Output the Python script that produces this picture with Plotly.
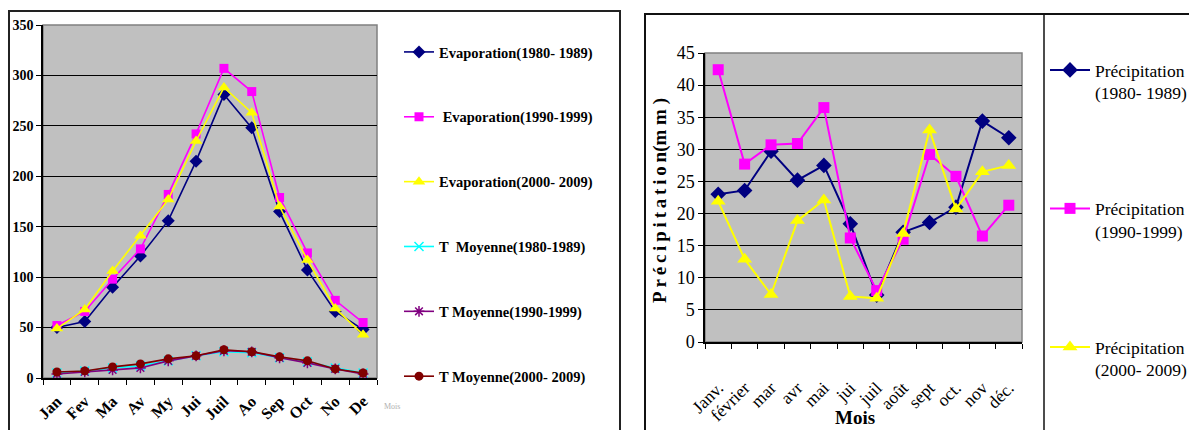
import plotly.graph_objects as go

W, H = 1189, 430

# ---------------- data ----------------
mois_g = ["Jan", "Fev", "Ma", "Av", "My", "Jui", "Juil", "Ao", "Sep", "Oct", "No", "De"]
evap_1980 = [50, 56, 90, 121, 156, 215, 281, 248, 165, 107, 66, 48]
evap_1990 = [52, 66, 98, 128, 182, 242, 307, 284, 179, 124, 77, 55]
evap_2000 = [49, 68, 106, 141, 177, 235, 288, 263, 170, 117, 69, 43]
tmoy_1980 = [5, 7, 10, 12, 17, 22, 26, 25, 20, 16, 10, 5]
tmoy_1990 = [4, 6, 8, 10, 17, 22, 27, 26, 20, 15, 9, 4]
tmoy_2000 = [6, 7, 11, 14, 19, 22, 28, 26, 21, 17, 9, 5]

mois_d = ["Janv.", "février", "mar", "avr", "mai", "jui", "juil", "août", "sept", "oct.", "nov", "déc."]
prec_1980 = [23.0, 23.6, 29.7, 25.2, 27.5, 18.4, 7.3, 17.1, 18.6, 21.0, 34.4, 31.8]
prec_1990 = [42.4, 27.7, 30.7, 30.9, 36.5, 16.2, 8.0, 16.0, 29.2, 25.8, 16.5, 21.3]
prec_2000 = [21.9, 12.9, 7.4, 18.9, 22.1, 7.1, 6.8, 16.9, 33.0, 20.7, 26.5, 27.5]

left_ticks = [0, 50, 100, 150, 200, 250, 300, 350]
right_ticks = [0, 5, 10, 15, 20, 25, 30, 35, 40, 45]

NAVY, MAG, YEL, CYAN, PURP, DRED = "#000080", "#FF00FF", "#FFFF00", "#00FFFF", "#800080", "#800000"
SERIF = "Liberation Serif, Times New Roman, serif"

def px_x(p):
    return p / W

def px_y(p):
    return 1 - p / H

fig = go.Figure()

left_series = [
    ("Evaporation(1980- 1989)", evap_1980, NAVY, "diamond", 10, None),
    (" Evaporation(1990-1999)", evap_1990, MAG, "square", 9, None),
    ("Evaporation(2000- 2009)", evap_2000, YEL, "triangle-up", 11, None),
    ("T  Moyenne(1980-1989)", tmoy_1980, CYAN, "x-thin-open", 9, CYAN),
    ("T Moyenne(1990-1999)", tmoy_1990, PURP, "asterisk-open", 9, PURP),
    ("T Moyenne(2000- 2009)", tmoy_2000, DRED, "circle", 9, None),
]
for i, (name, vals, col, sym, sz, lc) in enumerate(left_series):
    mk = dict(symbol=sym, size=sz, color=col)
    if lc:
        mk["line"] = dict(color=lc, width=1.5)
    fig.add_trace(go.Scatter(
        x=mois_g, y=vals, name=name, mode="lines+markers",
        line=dict(color=col, width=1.6), marker=mk,
        xaxis="x", yaxis="y", legend="legend", legendgroup="g%d" % i,
    ))

right_series = [
    ("Précipitation<br>(1980- 1989)", prec_1980, NAVY, "diamond", 12),
    ("Précipitation<br>(1990-1999)", prec_1990, MAG, "square", 11),
    ("Précipitation<br>(2000- 2009)", prec_2000, YEL, "triangle-up", 13),
]
for i, (name, vals, col, sym, sz) in enumerate(right_series):
    fig.add_trace(go.Scatter(
        x=mois_d, y=vals, name=name, mode="lines+markers",
        line=dict(color=col, width=2), marker=dict(symbol=sym, size=sz, color=col),
        xaxis="x2", yaxis="y2", legend="legend2", legendgroup="p%d" % i,
    ))

# plot area geometry (px)
L1, R1, T1, B1 = 43, 377, 25, 378
L2, R2, T2, B2 = 705, 1022, 53, 342

shapes = [
    dict(type="rect", xref="paper", yref="paper", x0=px_x(L1), x1=px_x(R1), y0=px_y(B1), y1=px_y(T1),
         line=dict(color="#808080", width=1.5), layer="below", fillcolor="#C0C0C0"),
    dict(type="rect", xref="paper", yref="paper", x0=px_x(L2), x1=px_x(R2), y0=px_y(B2), y1=px_y(T2),
         line=dict(color="#808080", width=1.5), layer="below", fillcolor="#C0C0C0"),
    dict(type="path", xref="paper", yref="paper",
         path="M %f %f L %f %f L %f %f L %f %f" % (px_x(9), 0, px_x(9), px_y(11), px_x(620), px_y(11), px_x(620), 0),
         line=dict(color="#222222", width=2)),
    dict(type="path", xref="paper", yref="paper",
         path="M %f %f L %f %f L %f %f" % (px_x(645), 0, px_x(645), px_y(14), 1, px_y(14)),
         line=dict(color="#111111", width=2)),
    dict(type="line", xref="paper", yref="paper", x0=px_x(1044), x1=px_x(1044), y0=0, y1=px_y(14),
         line=dict(color="#111111", width=1.5)),
]

TS = "\u2009"
ytitle = TS.join("Précipitation") + "(m m )"

annotations = [
    dict(text="<b>Mois</b>", xref="paper", yref="paper", x=px_x(855), y=px_y(417),
         xanchor="center", yanchor="middle",
         showarrow=False, font=dict(family=SERIF, size=19, color="black")),
    dict(text="<b>%s</b>" % ytitle, xref="paper", yref="paper",
         x=px_x(660), y=px_y(201), xanchor="center", yanchor="middle", textangle=-90, showarrow=False,
         font=dict(family=SERIF, size=19, color="black")),
    dict(text="Mois", xref="paper", yref="paper", x=px_x(392), y=px_y(406),
         xanchor="center", yanchor="middle",
         showarrow=False, font=dict(family=SERIF, size=8, color="#B0B0B0")),
]

fig.update_layout(
    template="none",
    width=W, height=H,
    margin=dict(l=0, r=0, t=0, b=0, autoexpand=False),
    paper_bgcolor="white", plot_bgcolor="rgba(0,0,0,0)",
    showlegend=True,
    shapes=shapes, annotations=annotations,
    xaxis=dict(domain=[px_x(L1), px_x(R1)], anchor="y", type="category", automargin=False,
               showgrid=False, showline=True, linecolor="black", linewidth=1.5,
               ticks="outside", tickson="boundaries", ticklen=5, tickcolor="black",
               ticklabelstandoff=6,
               tickangle=-45, tickfont=dict(family=SERIF, size=16, color="black", weight="bold"),
               range=[-0.5, 11.5]),
    yaxis=dict(domain=[px_y(B1), px_y(T1)], anchor="x", range=[0, 350], tickvals=left_ticks,
               automargin=False,
               showgrid=True, gridcolor="black", gridwidth=1, zeroline=False,
               showline=True, linecolor="black", linewidth=1.5,
               ticks="outside", ticklen=5, tickcolor="black",
               tickfont=dict(family=SERIF, size=14, color="black", weight="bold")),
    xaxis2=dict(domain=[px_x(L2), px_x(R2)], anchor="y2", type="category", automargin=False,
                showgrid=False, showline=True, linecolor="black", linewidth=1.5,
                ticks="outside", tickson="boundaries", ticklen=5, tickcolor="black",
                ticklabelstandoff=27,
                tickangle=-45, tickfont=dict(family=SERIF, size=17.5, color="black"),
                range=[-0.5, 11.5]),
    yaxis2=dict(domain=[px_y(B2), px_y(T2)], anchor="x2", range=[0, 45], tickvals=right_ticks,
                automargin=False,
                showgrid=True, gridcolor="black", gridwidth=1, zeroline=False,
                showline=True, linecolor="black", linewidth=1.5,
                ticks="outside", ticklen=5, tickcolor="black",
                tickfont=dict(family=SERIF, size=18, color="black")),
    legend=dict(x=px_x(399), y=px_y(36), xanchor="left", yanchor="top",
                bgcolor="rgba(0,0,0,0)", tracegroupgap=43,
                font=dict(family=SERIF, size=14.5, color="black", weight="bold")),
    legend2=dict(x=px_x(1045), y=px_y(52), xanchor="left", yanchor="top", valign="top",
                 bgcolor="rgba(0,0,0,0)", tracegroupgap=90, itemwidth=40,
                 font=dict(family=SERIF, size=17.5, color="black")),
)

fig.write_html("out.html")
